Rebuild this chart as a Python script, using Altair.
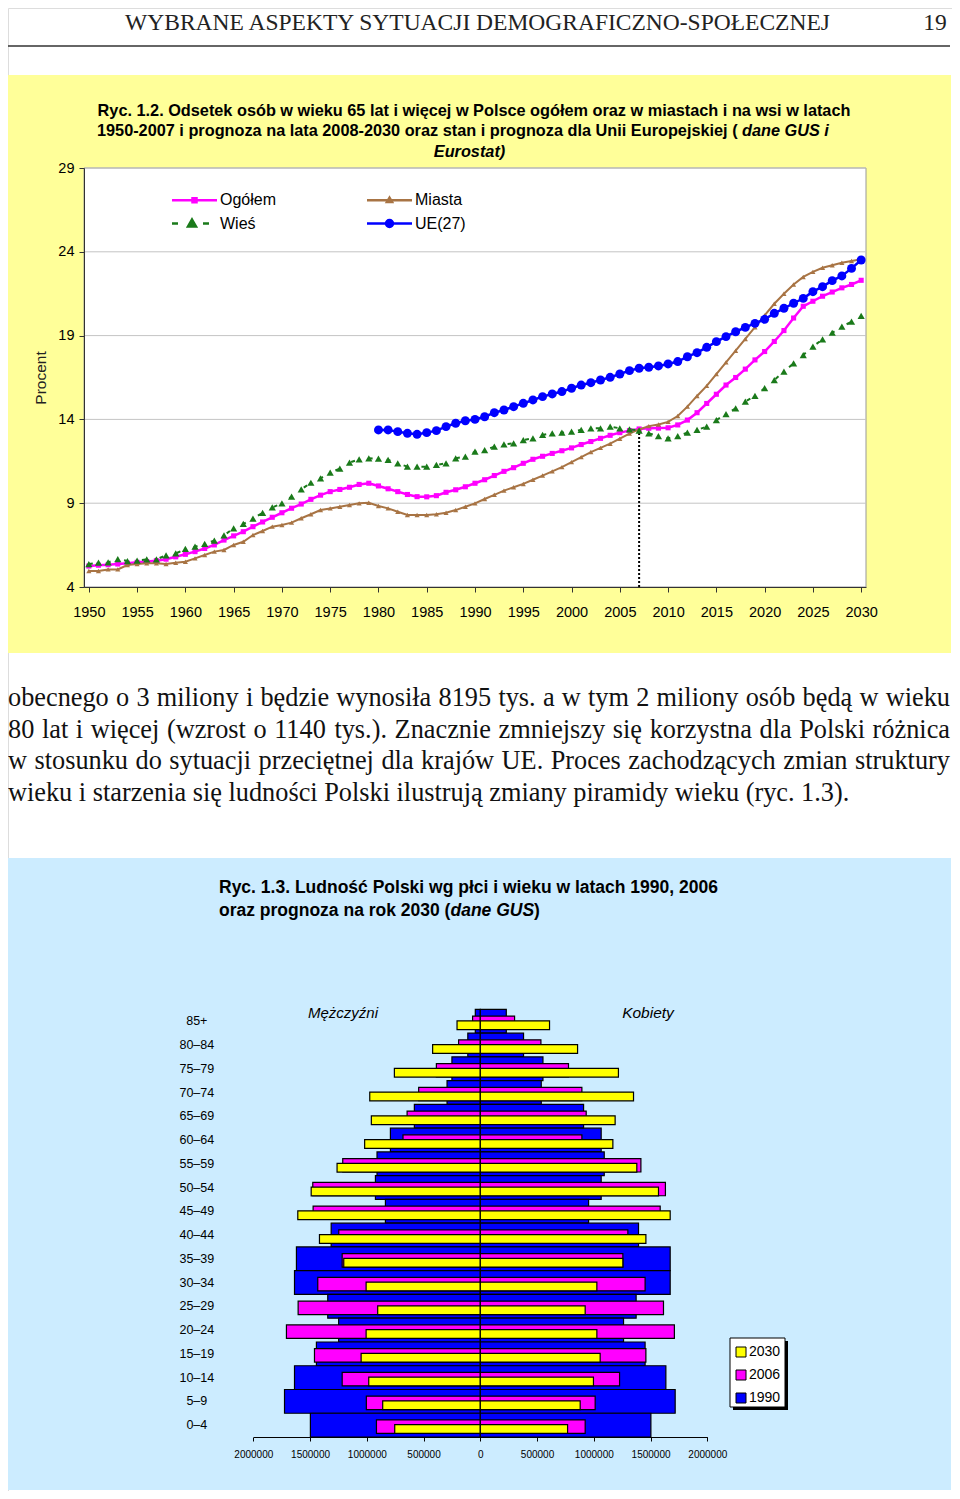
import altair as alt
import pandas as pd

# ---------------- data: figure 1.2 ----------------
years = list(range(1950, 2031))
ogolem = [5.25, 5.30, 5.33, 5.37, 5.42, 5.47, 5.52, 5.57, 5.66, 5.80,
          5.95, 6.11, 6.30, 6.51, 6.80, 7.05, 7.30, 7.60, 7.88, 8.16,
          8.43, 8.70, 8.95, 9.23, 9.48, 9.69, 9.82, 9.95, 10.12, 10.19,
          10.03, 9.86, 9.69, 9.52, 9.39, 9.38, 9.45, 9.65, 9.80, 9.98,
          10.19, 10.40, 10.65, 10.90, 11.12, 11.38, 11.62, 11.80, 11.97, 12.13,
          12.30, 12.50, 12.68, 12.87, 13.05, 13.21, 13.33, 13.43, 13.47, 13.48,
          13.50, 13.67, 13.96, 14.40, 14.95, 15.50, 16.05, 16.50, 17.00, 17.55,
          18.05, 18.65, 19.30, 20.05, 20.75, 21.05, 21.35, 21.60, 21.85, 22.05,
          22.30]
miasta = [4.95, 4.95, 5.05, 5.05, 5.31, 5.37, 5.41, 5.41, 5.37, 5.45,
          5.51, 5.71, 5.91, 6.11, 6.21, 6.51, 6.70, 7.10, 7.34, 7.60,
          7.70, 7.84, 8.10, 8.34, 8.59, 8.69, 8.79, 8.89, 8.99, 9.03,
          8.83, 8.69, 8.49, 8.30, 8.30, 8.30, 8.34, 8.43, 8.59, 8.79,
          8.99, 9.25, 9.50, 9.75, 9.95, 10.15, 10.40, 10.65, 10.90, 11.15,
          11.45, 11.75, 12.05, 12.30, 12.55, 12.85, 13.15, 13.40, 13.60, 13.70,
          13.85, 14.20, 14.76, 15.40, 16.00, 16.70, 17.40, 18.10, 18.80, 19.50,
          20.20, 20.90, 21.50, 22.05, 22.50, 22.80, 23.05, 23.20, 23.35, 23.45,
          23.55]
wies = [5.37, 5.45, 5.47, 5.67, 5.55, 5.57, 5.65, 5.65, 5.89, 6.00,
        6.27, 6.41, 6.57, 6.77, 7.08, 7.50, 7.76, 8.08, 8.43, 8.75,
        8.99, 9.39, 9.83, 10.22, 10.48, 10.82, 11.06, 11.42, 11.62, 11.68,
        11.66, 11.58, 11.38, 11.18, 11.18, 11.18, 11.28, 11.38, 11.68, 11.78,
        12.07, 12.17, 12.37, 12.51, 12.57, 12.77, 12.87, 13.07, 13.17, 13.21,
        13.27, 13.37, 13.47, 13.47, 13.57, 13.47, 13.41, 13.33, 13.17, 13.00,
        12.87, 13.00, 13.21, 13.37, 13.57, 13.96, 14.32, 14.66, 15.06, 15.40,
        15.86, 16.35, 16.85, 17.35, 17.84, 18.34, 18.78, 19.17, 19.53, 19.83,
        20.17]
ue_years = list(range(1980, 2031))
ue27 = [13.37, 13.37, 13.27, 13.17, 13.11, 13.21, 13.33, 13.57, 13.77, 13.92,
        14.00, 14.16, 14.40, 14.56, 14.76, 14.96, 15.16, 15.36, 15.52, 15.66,
        15.86, 16.05, 16.19, 16.35, 16.51, 16.71, 16.91, 17.05, 17.11, 17.19,
        17.31, 17.45, 17.74, 17.98, 18.30, 18.64, 18.94, 19.23, 19.49, 19.73,
        19.97, 20.33, 20.63, 20.93, 21.22, 21.62, 21.92, 22.28, 22.56, 23.01,
        23.51]
series_names = ["Ogółem", "Miasta", "Wieś", "UE(27)"]
legend_order = ["Ogółem", "Wieś", "Miasta", "UE(27)"]   # column-major fill -> 2x2 grid
x_ticks = list(range(1950, 2031, 5))
y_ticks = [4, 9, 14, 19, 24, 29]
marker_year = 2007

# ---------------- data: figure 1.3 (thousands) ----------------
age_groups = ["85+", "80–84", "75–79", "70–74", "65–69", "60–64", "55–59",
              "50–54", "45–49", "40–44", "35–39", "30–34", "25–29", "20–24",
              "15–19", "10–14", "5–9", "0–4"]
pyr_years = ["2030", "2006", "1990"]
men_1990 = [44, 110, 250, 293, 581, 792, 910, 924, 836, 1314, 1620, 1637,
            1344, 1248, 1444, 1637, 1725, 1497]
men_2006 = [68, 191, 387, 543, 645, 681, 1212, 1476, 1473, 1247, 1217, 1432,
            1605, 1708, 1461, 1217, 1004, 915]
men_2030 = [205, 420, 757, 974, 960, 1019, 1262, 1490, 1608, 1417, 1203, 1006,
            904, 1006, 1050, 983, 860, 754]
women_1990 = [229, 381, 552, 537, 910, 1065, 1092, 1065, 954, 1394, 1673, 1673,
              1373, 1262, 1452, 1635, 1717, 1503]
women_2006 = [302, 534, 777, 895, 933, 895, 1415, 1631, 1585, 1300, 1256, 1452,
              1614, 1710, 1459, 1227, 1012, 924]
women_2030 = [610, 857, 1217, 1350, 1188, 1168, 1379, 1570, 1673, 1459, 1256, 1027,
              924, 1027, 1056, 997, 880, 769]
pyr_ticks = [-2000000, -1500000, -1000000, -500000, 0, 500000, 1000000, 1500000, 2000000]

# ---------------- page texts ----------------
header_text = "WYBRANE ASPEKTY SYTUACJI DEMOGRAFICZNO-SPOŁECZNEJ"
page_number = "19"
paragraph = [
    "obecnego o 3 miliony i będzie wynosiła 8195 tys. a w tym 2 miliony osób będą w wieku",
    "80 lat i więcej (wzrost o 1140 tys.). Znacznie zmniejszy się korzystna dla Polski różnica",
    "w stosunku do sytuacji przeciętnej dla krajów UE. Proces zachodzących zmian struktury",
    "wieku i starzenia się ludności Polski ilustrują zmiany piramidy wieku (ryc. 1.3).",
]

# ---------------- tables ----------------
line_df = pd.DataFrame({
    "year": years * 3 + ue_years,
    "value": ogolem + miasta + wies + ue27,
    "series": ["Ogółem"] * len(years) + ["Miasta"] * len(years)
              + ["Wieś"] * len(years) + ["UE(27)"] * len(ue_years),
})
grid_df = pd.DataFrame({"v": y_ticks[1:]})

rows = []
for yr, men, women in [("1990", men_1990, women_1990), ("2006", men_2006, women_2006),
                       ("2030", men_2030, women_2030)]:
    for a, m, w in zip(age_groups, men, women):
        rows.append({"age": a, "year": yr, "sex": "M", "v": -m * 1000})
        rows.append({"age": a, "year": yr, "sex": "K", "v": w * 1000})
pyr_df = pd.DataFrame(rows)

one = pd.DataFrame({"k": [0]})

W, H = 944, 1483
SANS = "Liberation Sans"
SERIF = "Liberation Serif"


def txt(s, x, y, size, font=SANS, weight="normal", style="normal", align="left",
        baseline="middle", color="#000"):
    return alt.Chart(one).mark_text(
        text=s, font=font, fontSize=size, fontWeight=weight, fontStyle=style,
        align=align, baseline=baseline, color=color
    ).encode(x=alt.value(x), y=alt.value(y))


def box(x1, y1, x2, y2, fill, stroke=None, sw=0):
    kw = dict(fill=fill)
    if stroke:
        kw.update(stroke=stroke, strokeWidth=sw)
    return alt.Chart(one).mark_rect(**kw).encode(
        x=alt.value(x1), x2=alt.value(x2), y=alt.value(y1), y2=alt.value(y2))


# Times / Liberation Serif advance widths (per 1000 em) for justified text
TW = {" ": 250, "a": 444, "b": 500, "c": 444, "d": 500, "e": 444, "f": 333, "g": 500,
      "h": 500, "i": 278, "j": 278, "k": 500, "l": 278, "m": 778, "n": 500, "o": 500,
      "p": 500, "q": 500, "r": 333, "s": 389, "t": 278, "u": 500, "v": 500, "w": 722,
      "x": 500, "y": 500, "z": 444, "ą": 444, "ę": 444, "ó": 500, "ł": 278, "ś": 389,
      "ż": 444, "ź": 444, "ć": 444, "ń": 500, ".": 250, ",": 250, "(": 333, ")": 333,
      "-": 333, "O": 722, "Z": 611, "P": 556, "U": 722, "E": 611, "R": 667, "A": 722}


def tw(s, size):
    return sum(TW.get(ch, 500) for ch in s) / 1000.0 * size


def justified(line, y, size, x0, x1):
    words = line.split(" ")
    widths = [tw(w, size) for w in words]
    gap = (x1 - x0 - sum(widths)) / (len(words) - 1)
    out, x = [], x0
    for w, wd in zip(words, widths):
        out.append(txt(w, x, y, size, font=SERIF, baseline="alphabetic", color="#111"))
        x += wd + gap
    return out


PSIZE = 26.3
para_layers = []
for i, line in enumerate(paragraph[:3]):
    para_layers += justified(line, 698 + 31.7 * i, PSIZE, 0, 942)
para_layers.append(txt(paragraph[3], 0, 698 + 31.7 * 3, PSIZE, font=SERIF,
                       baseline="alphabetic", color="#111"))

# ---------------- decoration (page elements) ----------------
decor = [
    txt(header_text, 469.5, 21.5, 23.5, font=SERIF, align="center", baseline="alphabetic",
        color="#222"),
    txt(page_number, 927, 21.5, 23.5, font=SERIF, align="center", baseline="alphabetic",
        color="#222"),
    alt.Chart(one).mark_rule(color="#333", strokeWidth=1.5).encode(
        x=alt.value(-3), x2=alt.value(942), y=alt.value(38)),
    box(-4, 67, 943, 645, "#FFFF99"),
    txt("Ryc. 1.2. Odsetek osób w wieku 65 lat i więcej w Polsce ogółem oraz w miastach i na wsi w latach",
        466, 103, 16.3, weight="bold", align="center"),
    txt("1950-2007 i prognoza na lata 2008-2030 oraz stan i prognoza dla Unii Europejskiej (",
        729.6, 123, 16.3, weight="bold", align="right"),
    txt("dane GUS i", 734, 123, 16.3, weight="bold", style="italic", align="left"),
    txt("Eurostat)", 461.5, 144, 16.3, weight="bold", style="italic", align="center"),
    box(120, 182, 512, 232, "#000"),
    box(117, 179, 509, 229, "#FFFFFF", "#000", 1),
    *para_layers,
    box(-4, 850, 943, 1482, "#CCECFF"),
    txt("Ryc. 1.3. Ludność Polski wg płci i wieku w latach 1990, 2006", 211, 880, 17.5, weight="bold"),
    txt("oraz prognoza na rok 2030 (", 211, 903, 17.5, weight="bold"),
    txt("dane GUS", 442.5, 903, 17.5, weight="bold", style="italic"),
    txt(")", 526, 903, 17.5, weight="bold"),
    txt("Mężczyźni", 335, 1005, 15, style="italic", align="center"),
    txt("Kobiety", 640, 1005, 15.5, style="italic", align="center"),
    box(725, 1333, 780, 1402, "#000"),
    box(722, 1330, 777, 1399, "#FFFFFF", "#000", 1),
]

# ---------------- figure 1.2: lines ----------------
xs1 = alt.Scale(domain=[1949.5, 2030.5], range=[76, 858], nice=False, zero=False)
ys1 = alt.Scale(domain=[4, 29], range=[579, 160], nice=False, zero=False)
ax1x = alt.Axis(orient="bottom", offset=579 - H, values=x_ticks, format="d", grid=False,
                title=None, labelFontSize=14.5, labelColor="#000", labelFont=SANS,
                tickSize=5, tickColor="#333", domainColor="#333", labelPadding=13,
                labelFlush=False, labelOverlap=False, zindex=1)
ax1y = alt.Axis(orient="left", offset=-76, values=y_ticks, grid=False, title="Procent",
                titleFontSize=15.5, titleFontWeight="normal", titleColor="#222",
                titleFont=SANS, titlePadding=9, labelFontSize=14.5, labelColor="#000",
                labelFont=SANS, tickSize=5, tickColor="#333", domainColor="#333",
                labelPadding=5, zindex=1)


def X1(field):
    return alt.X(field, type="quantitative", scale=xs1, axis=ax1x)


def Y1(field):
    return alt.Y(field, type="quantitative", scale=ys1, axis=ax1y)


plot_bg = alt.Chart(one).mark_rect(fill="white", stroke="#999", strokeWidth=1).encode(
    x=alt.XDatum(1949.5, type="quantitative", scale=xs1, axis=ax1x),
    x2=alt.X2Datum(2030.5),
    y=alt.YDatum(4, type="quantitative", scale=ys1, axis=ax1y),
    y2=alt.Y2Datum(29),
)
grid = alt.Chart(grid_df).mark_rule(color="#C4C4C4", strokeWidth=1).encode(
    y=Y1("v"),
    x=alt.XDatum(1949.5, type="quantitative", scale=xs1, axis=ax1x),
    x2=alt.X2Datum(2030.5),
)
marker_rule = alt.Chart(one).mark_rule(color="#000", strokeWidth=2, strokeDash=[2, 2]).encode(
    x=alt.XDatum(marker_year, type="quantitative", scale=xs1, axis=ax1x),
    y=alt.YDatum(4, type="quantitative", scale=ys1, axis=ax1y),
    y2=alt.Y2Datum(ogolem[years.index(marker_year)]),
)

styles = {
    "Ogółem": dict(color="#FF00FF", width=2.5, dash=None, shape="square", size=26,
                   path="M-1.15,0H3.35M0.9,-0.2H1.3V0.2H0.9Z"),
    "Miasta": dict(color="#A87444", width=2, dash=None, shape="triangle-up", size=26,
                   path="M-1.15,0H3.35M1.1,-0.25L1.35,0.17H0.85Z"),
    "Wieś": dict(color="#1A7A1A", width=2, dash=[4, 14], shape="triangle-up", size=52,
                 path="M-1.15,0H-0.55M1.95,0H2.55M0.85,-0.4L1.25,0.3H0.45Z"
                      "M0.85,-0.15L1.05,0.2H0.65Z"),
    "UE(27)": dict(color="#0000FF", width=2.5, dash=None, shape="circle", size=80,
                   path="M-1.15,0H3.35M1.45,0A0.35,0.35 0 1,1 0.75,0A0.35,0.35 0 1,1 1.45,0"
                        "M1.3,0A0.2,0.2 0 1,1 0.9,0A0.2,0.2 0 1,1 1.3,0"
                        "M1.16,0A0.06,0.06 0 1,1 1.04,0A0.06,0.06 0 1,1 1.16,0"),
}
series_layers = []
for name in series_names:
    st = styles[name]
    base = alt.Chart(line_df).transform_filter(alt.datum.series == name)
    lk = dict(color=st["color"], strokeWidth=st["width"])
    if st["dash"]:
        lk["strokeDash"] = st["dash"]
    series_layers.append(base.mark_line(**lk).encode(x=X1("year"), y=Y1("value")))
    series_layers.append(base.mark_point(filled=True, opacity=1, shape=st["shape"],
                                         size=st["size"], color=st["color"]).encode(
        x=X1("year"), y=Y1("value")))

leg1 = alt.Legend(orient="none", legendX=164, legendY=180, title=None, columns=2,
                  columnPadding=85, rowPadding=3, symbolSize=400, symbolStrokeWidth=2.5,
                  symbolOpacity=1, labelFontSize=16, labelFont=SANS, labelColor="#000",
                  labelOffset=25, padding=0, gridAlign="all")
legend_layer = alt.Chart(line_df).transform_filter("false").mark_point(
    filled=False, strokeWidth=2.5).encode(
    x=X1("year"), y=Y1("value"),
    color=alt.Color("series:N", scale=alt.Scale(domain=legend_order,
                    range=[styles[n]["color"] for n in legend_order]), legend=leg1),
    shape=alt.Shape("series:N", scale=alt.Scale(domain=legend_order,
                    range=[styles[n]["path"] for n in legend_order]), legend=leg1),
)

line_layer = alt.layer(plot_bg, grid, marker_rule, *series_layers, legend_layer)

# ---------------- figure 1.3: pyramid ----------------
xs2 = alt.Scale(domain=[-2000000, 2000000], range=[245.3, 699.3], nice=False, zero=False)
ys2 = alt.Scale(type="band", domain=age_groups, range=[1001.4, 1429],
                paddingInner=0, paddingOuter=0)
ax2x = alt.Axis(orient="bottom", offset=1429 - H, values=pyr_ticks,
                labelExpr="format(abs(datum.value), 'd')", grid=False, title=None,
                labelFontSize=10, labelFont=SANS, labelColor="#000", tickSize=4,
                tickColor="#000", domainColor="#000", labelPadding=8,
                labelFlush=False, labelOverlap=False, zindex=1)
ax2y = alt.Axis(orient="left", offset=-245.3, domain=False, ticks=False, tickSize=0,
                labelAlign="center", labelPadding=57, labelFontSize=12.5, labelFont=SANS,
                labelColor="#000", title=None, zindex=1)
cs2 = alt.Scale(domain=pyr_years, range=["#FFFF00", "#FF00FF", "#0000FF"])
leg2 = alt.Legend(orient="none", legendX=726, legendY=1337, title=None, symbolType="square",
                  symbolSize=100, symbolStrokeColor="#000", symbolStrokeWidth=1,
                  labelFontSize=14, labelFont=SANS, labelColor="#000", labelOffset=1,
                  rowPadding=9, padding=0)


def pyr_bar(year, **mk):
    return alt.Chart(pyr_df).transform_filter(alt.datum.year == year).mark_bar(
        stroke="#000", strokeWidth=1.2, **mk).encode(
        x=alt.X("v:Q", scale=xs2, axis=ax2x),
        y=alt.Y("age:N", scale=ys2, axis=ax2y, sort=age_groups),
        color=alt.Color("year:N", scale=cs2, legend=leg2),
    )


pyr_layer = alt.layer(
    pyr_bar("1990"),
    pyr_bar("2006", height=13.4, yOffset=1.5),
    pyr_bar("2030", height=8.7, yOffset=3.9),
)

chart = alt.layer(*decor, line_layer, pyr_layer).resolve_scale(
    x="independent", y="independent", color="independent", shape="independent"
).properties(
    width=W, height=H, padding=0, autosize=alt.AutoSizeParams(type="none")
).configure_view(stroke=None).configure(background="white")

chart.save("out.html", embed_options={"renderer": "svg", "actions": False})
